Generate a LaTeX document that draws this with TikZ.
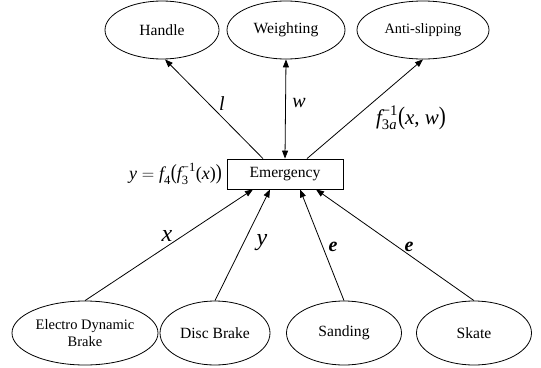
\documentclass[tikz,border=0pt]{standalone}
\usepackage{amsmath}
\usepackage{fontspec}
\setmainfont{Liberation Serif}
\usepackage{graphicx}
\usetikzlibrary{shapes.geometric,arrows.meta}
\newcommand{\bigpar}[1]{\text{\scalebox{1}[1.2]{#1}}}
\newcommand{\tx}[1]{\text{#1}}
\tikzset{
  ell/.style={ellipse, draw, line width=0.8pt, inner sep=0pt, align=center, font=\fontsize{15.6}{17}\selectfont},
  boxn/.style={rectangle, draw, line width=0.8pt, inner sep=0pt, minimum width=116pt, minimum height=30pt, font=\fontsize{15.6}{17}\selectfont},
  conn/.style={line width=0.8pt},
  tip/.style={-{Triangle[length=8pt,width=6pt]}},
  lab/.style={inner sep=0pt}
}
\begin{document}
\begin{tikzpicture}[x=1pt,y=-1pt]
\useasboundingbox (0,0) rectangle (541,367);
% top ellipses
\node[ell, minimum width=114pt, minimum height=58pt] (handle) at (162,30) {Handle};
\node[ell, minimum width=118pt, minimum height=58pt] (weight) at (286,30) {Weighting};
\node[ell, minimum width=132pt, minimum height=58pt, font=\fontsize{14.4}{16}\selectfont] (anti) at (423,30) {Anti-slipping};
% box
\node[boxn] (em) at (285,174) {Emergency};
% bottom ellipses
\node[ell, minimum width=146pt, minimum height=64pt, font=\fontsize{14.5}{17}\selectfont] (edb) at (85,333) {Electro Dynamic\\Brake};
\node[ell, minimum width=110pt, minimum height=64pt] (disc) at (215,333) {Disc Brake};
\node[ell, minimum width=115pt, minimum height=64pt] (sand) at (344,333) {Sanding};
\node[ell, minimum width=115pt, minimum height=64pt] (skate) at (474,333) {Skate};
% top connectors
\draw[conn,tip] ([xshift=-22pt]em.north) -- ([xshift=3pt]handle.south);
\draw[conn,{Triangle[length=8pt,width=6pt]}-{Triangle[length=8pt,width=6pt]}] (em.north) -- (weight.south);
\draw[conn,tip] ([xshift=22pt]em.north) -- (anti.south);
% bottom connectors
\draw[conn,tip] (edb.north) -- ([xshift=-32pt]em.south);
\draw[conn,tip] (disc.north) -- ([xshift=-15pt]em.south);
\draw[conn,tip] (sand.north) -- ([xshift=15pt]em.south);
\draw[conn,tip] (skate.north) -- ([xshift=31pt]em.south);
% labels
\node[lab, font=\fontsize{20}{20}\selectfont\itshape] (ll) at (222,104) {l};
\node[lab, font=\fontsize{20}{20}\selectfont\itshape] (lw) at (299,103) {w};
\node[lab, font=\fontsize{21}{21}\selectfont] (lf) at (411,118) {$\tx{\itshape f}^{\tx{−1}}_{\tx{3\itshape a}}\bigpar{(}\tx{\itshape x}\tx{, }\tx{\itshape w}\bigpar{)}$};
\node[lab, font=\fontsize{18}{18}\selectfont, anchor=east] (ly) at (222,174) {$\tx{\itshape y} = \tx{\itshape f}_{\tx{4}}\bigpar{(}\tx{\itshape f}^{\tx{−1}}_{\tx{3}}\tx{(}\tx{\itshape x}\tx{)}\bigpar{)}$};
\node[lab, font=\fontsize{24}{24}\selectfont\itshape] (lx) at (167,236) {x};
\node[lab, font=\fontsize{24}{24}\selectfont\itshape] (lyy) at (262,243) {y};
\node[lab, font=\fontsize{20}{20}\selectfont\bfseries\itshape] (le1) at (333,247) {e};
\node[lab, font=\fontsize{20}{20}\selectfont\bfseries\itshape] (le2) at (409,247) {e};
\end{tikzpicture}
\end{document}
